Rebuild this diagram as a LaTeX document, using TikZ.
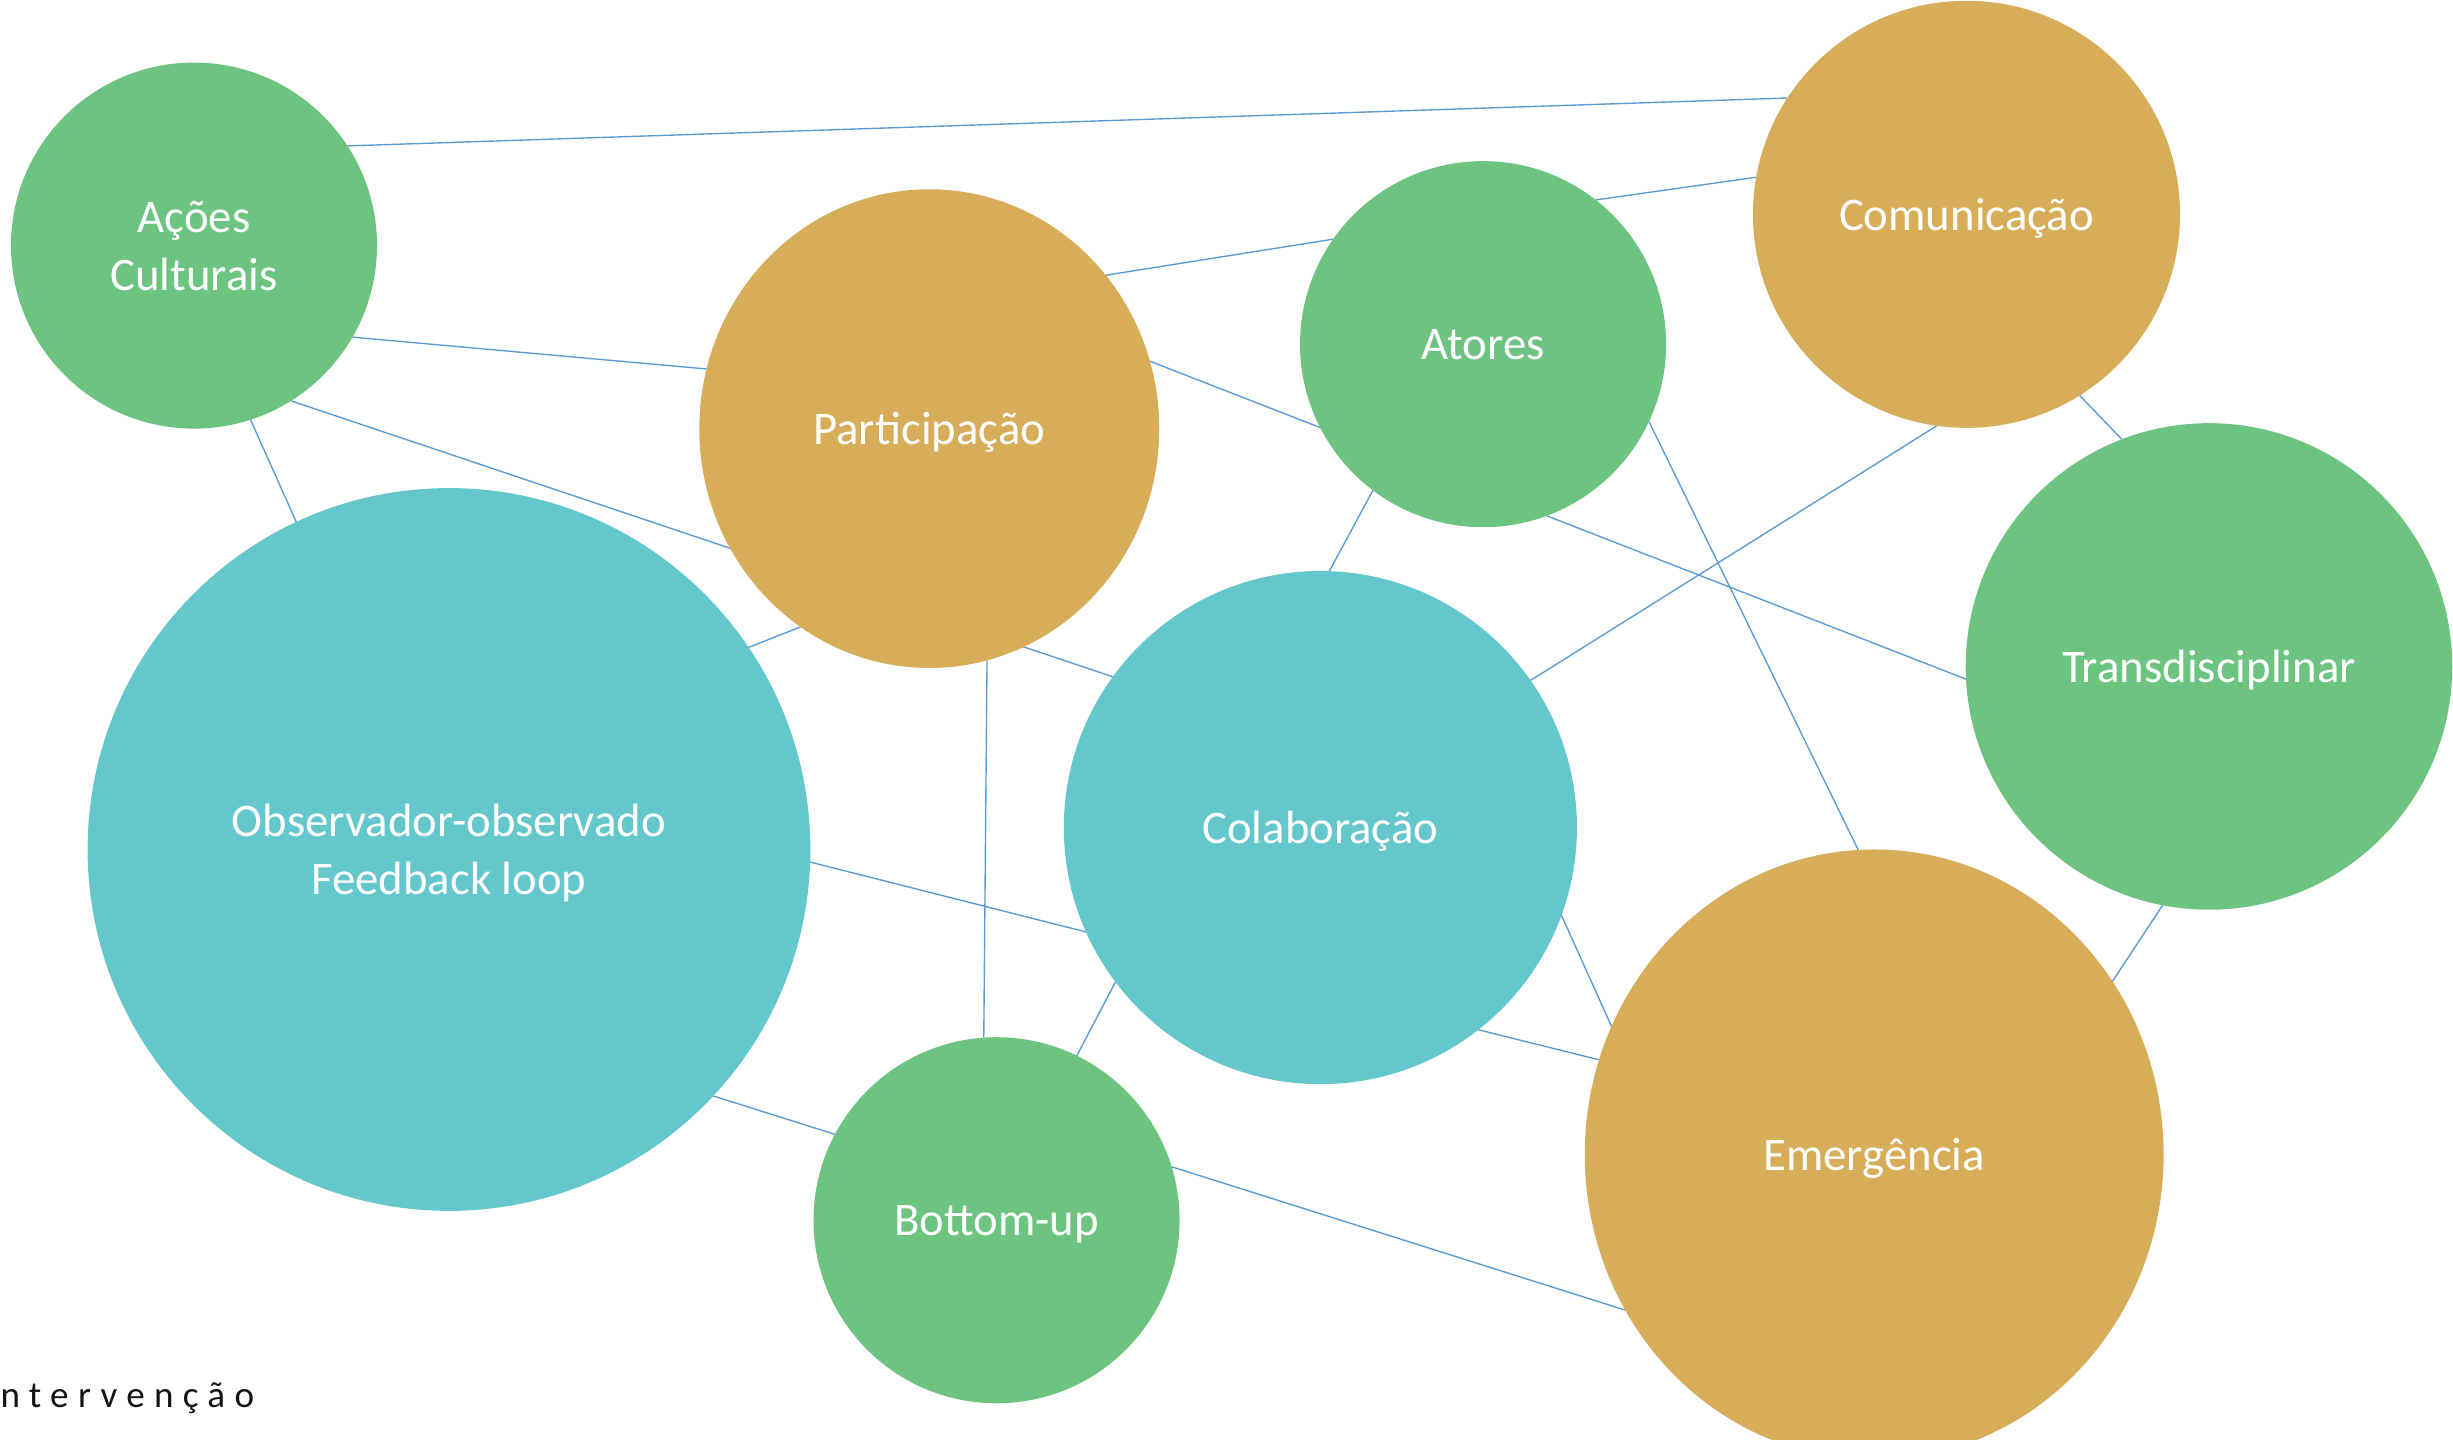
\documentclass[tikz,border=0pt]{standalone}
\usepackage{fontspec}
\setmainfont{Carlito}
\usetikzlibrary{shapes.geometric,backgrounds}
\definecolor{verde}{RGB}{108,196,128}
\definecolor{ouro}{RGB}{215,173,89}
\definecolor{turquesa}{RGB}{99,199,204}
\definecolor{linha}{RGB}{91,155,213}
\definecolor{texto}{RGB}{20,20,20}

\begin{document}
\begin{tikzpicture}[
		bolha/.style={circle, inner sep=0pt, outer sep=0pt, text=white, align=center, text depth=0pt, font=\fontsize{17}{21}\selectfont},
		oval/.style={ellipse, inner sep=0pt, outer sep=0pt, text=white, align=center, text depth=0pt, font=\fontsize{17}{21}\selectfont},
		elo/.style={draw=linha, line width=0.5pt}]
		\useasboundingbox (0,0) rectangle (31.36,-18.4);
		\node[bolha, fill=verde, minimum size=4.68cm] (acoes) at (2.48,-3.14) {Ações\\Culturais};
		\node[oval, fill=ouro, minimum width=5.88cm, minimum height=6.12cm] (part) at (11.88,-5.48) {Participação};
		\node[bolha, fill=verde, minimum size=4.68cm] (atores) at (18.96,-4.40) {Atores};
		\node[bolha, fill=ouro, minimum size=5.46cm] (comun) at (25.14,-2.74) {Comunicação};
		\node[bolha, fill=verde, minimum size=6.22cm] (trans) at (28.24,-8.52) {Transdisciplinar};
		\node[bolha, fill=turquesa, minimum size=9.24cm] (obs) at (5.74,-10.86) {Observador-observado\\Feedback loop};
		\node[bolha, fill=turquesa, minimum size=6.56cm] (colab) at (16.88,-10.58) {Colaboração};
		\node[bolha, fill=verde, minimum size=4.68cm] (bottom) at (12.74,-15.60) {Bottom-up};
		\node[oval, fill=ouro, minimum width=7.40cm, minimum height=7.80cm] (emerg) at (23.96,-14.76) {Emergência};
		\node[anchor=base west, inner sep=0pt, text=texto, font=\fontsize{13.5}{16}\selectfont\addfontfeature{LetterSpace=25}] (interv) at (0,-18.0) {ntervenção};
		% ligacoes por tras das bolhas
		\begin{scope}[on background layer]
			\draw[elo] (acoes.33) -- (comun.147);
			\draw[elo] (acoes.-30) -- (part.165);
			\draw[elo] (acoes.-58) -- (colab.144);
			\draw[elo] (acoes.-72) -- (obs.115);
			\draw[elo] (part.41) -- (atores.145);
			\draw[elo] (atores.52) -- (comun.170);
			\draw[elo] (part.17) -- (trans.183);
			\draw[elo] (part.-123) -- (obs.34);
			\draw[elo] (part.-76) -- (bottom.94);
			\draw[elo] (atores.-127) -- (colab.88);
			\draw[elo] (atores.-25) -- (emerg.93);
			\draw[elo] (comun.-98) -- (colab.35);
			\draw[elo] (comun.-58) -- (trans.111);
			\draw[elo] (trans.-101) -- (emerg.36);
			\draw[elo] (obs.-2) -- (colab.-156);
			\draw[elo] (obs.-43) -- (bottom.152);
			\draw[elo] (colab.-143) -- (bottom.64);
			\draw[elo] (colab.-20) -- (emerg.154);
			\draw[elo] (colab.-52) -- (emerg.161);
			\draw[elo] (bottom.17) -- (emerg.-148);
		\end{scope}
	\end{tikzpicture}
\end{document}
